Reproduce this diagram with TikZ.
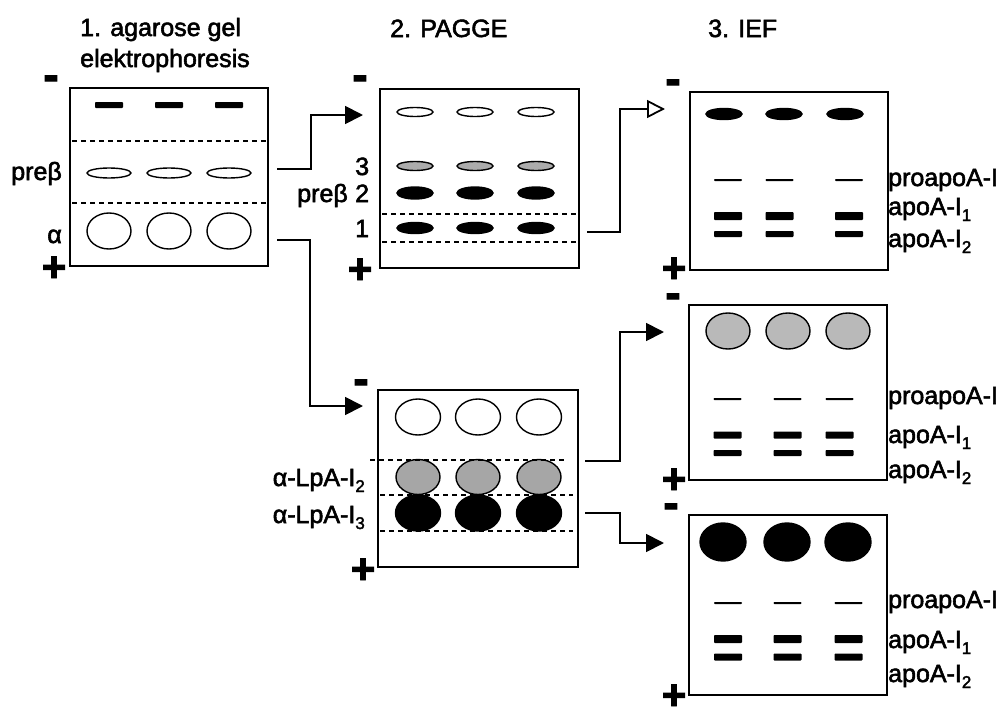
\documentclass[tikz,border=0pt]{standalone}
\usepackage{fontspec}
\setmainfont{Liberation Sans}[FakeBold=2.2]
\usetikzlibrary{shapes.geometric,arrows.meta}
\newcommand\fsa{\fontsize{25}{30}\selectfont}
\newcommand\fsminus{\fontsize{46}{46}\selectfont\bfseries}
\newcommand\fsplus{\fontsize{42}{42}\selectfont\bfseries}
\newcommand\lsub[1]{\raisebox{-6pt}{\fontsize{17}{17}\selectfont #1}}
\begin{document}
\begin{tikzpicture}[x=1pt,y=-1pt,
  gel/.style={draw, line width=1.8pt, inner sep=0pt, rectangle},
  band/.style={fill=black, inner sep=0pt, rectangle, rounded corners=0.8pt, minimum width=28pt},
  spot/.style={ellipse, draw, line width=1.4pt, inner sep=0pt},
  lbl/.style={font=\fsa, inner sep=0pt},
  minus/.style={font=\fsminus, inner sep=0pt},
  plus/.style={font=\fsplus, inner sep=0pt},
  dashln/.style={line width=1.5pt, dash pattern=on 5pt off 4pt},
  conn/.style={line width=1.8pt},
  tipfill/.style={-{Triangle[length=18pt,width=18pt]}},
  tipopen/.style={-{Triangle[open,length=18pt,width=18pt,fill=white]}}
]
\useasboundingbox (0,0) rectangle (1002,712);
\fill[white] (0,0) rectangle (1002,712);

% titles
\node[lbl, anchor=base west] (t1a) at (80,36) {1. agarose gel};
\node[lbl, anchor=base west] (t1b) at (80,67) {elektrophoresis};
\node[lbl, anchor=base west] (t2) at (390,37) {2. PAGGE};
\node[lbl, anchor=base west] (t3) at (708,37) {3. IEF};

% gels
\node[gel, minimum width=198pt, minimum height=178pt] (g1) at (169,177) {};
\node[gel, minimum width=199pt, minimum height=179pt] (g2) at (479.5,178.5) {};
\node[gel, minimum width=200pt, minimum height=177pt] (g3) at (478,478.5) {};
\node[gel, minimum width=198pt, minimum height=178pt] (i1) at (789,181) {};
\node[gel, minimum width=198pt, minimum height=175pt] (i2) at (788,392.5) {};
\node[gel, minimum width=198pt, minimum height=180pt] (i3) at (788,605) {};

% gel 1 content
\foreach \x [count=\i] in {109,169,229} {
  \node[band, minimum height=6pt] (g1b\i) at (\x,105) {};
  \node[spot, fill=white, minimum width=44pt, minimum height=10pt] (g1p\i) at (\x,173) {};
  \node[spot, fill=white, minimum width=44pt, minimum height=36pt] (g1a\i) at (\x,231) {};
}
\draw[dashln] (72,141) -- (266,141);
\draw[dashln] (72,203) -- (266,203);
\node[lbl, anchor=base east] (l1p) at (62,180) {preβ};
\node[lbl, anchor=base east] (l1a) at (62,243) {α};

% gel 2 content
\foreach \x [count=\i] in {415,475,536} {
  \node[spot, fill=white, minimum width=36pt, minimum height=9pt] (g2w\i) at (\x,112) {};
  \node[spot, fill=gray!65, minimum width=36pt, minimum height=9pt] (g2g\i) at (\x,166) {};
  \node[spot, fill=black, minimum width=36pt, minimum height=12pt] (g2k\i) at (\x,193) {};
  \node[spot, fill=black, minimum width=36pt, minimum height=11pt] (g2o\i) at (\x,228) {};
}
\draw[dashln] (382,214) -- (576,214);
\draw[dashln] (382,242) -- (576,242);
\node[lbl, anchor=base west] (l2c) at (355,175) {3};
\node[lbl, anchor=base west] (l2b) at (355,202) {2};
\node[lbl, anchor=base west] (l2a) at (355,237) {1};
\node[lbl, anchor=base east] (l2p) at (348,202) {preβ};

% gel 3 content
\foreach \x [count=\i] in {418,478,539} {
  \node[spot, fill=white, minimum width=45pt, minimum height=36pt] (g3w\i) at (\x,417) {};
  \node[spot, fill=gray!70, minimum width=44pt, minimum height=35pt] (g3g\i) at (\x,477) {};
  \node[spot, fill=black, minimum width=45pt, minimum height=36pt] (g3k\i) at (\x,513) {};
}
\draw[dashln] (370,460) -- (565,460);
\draw[dashln] (380,495) -- (573,495);
\draw[dashln] (380,531) -- (573,531);
\node[lbl, anchor=base east] (l3a) at (365,486) {α-LpA-I\lsub{2}};
\node[lbl, anchor=base east] (l3b) at (365,523) {α-LpA-I\lsub{3}};

% IEF 1
\foreach \x [count=\i] in {724,784,845} {
  \node[spot, fill=black, minimum width=36pt, minimum height=11pt] (i1s\i) at (\x,114) {};
}
\foreach \x [count=\i] in {728,779.5,849} {
  \node[band, minimum height=2pt] (i1p\i) at (\x,180) {};
  \node[band, minimum height=8pt] (i1m\i) at (\x,216) {};
  \node[band, minimum height=6pt] (i1n\i) at (\x,234) {};
}
\node[lbl, anchor=base west] (r1a) at (888,186) {proapoA-I};
\node[lbl, anchor=base west] (r1b) at (888,215) {apoA-I\lsub{1}};
\node[lbl, anchor=base west] (r1c) at (888,247) {apoA-I\lsub{2}};

% IEF 2
\foreach \x [count=\i] in {728,788,848} {
  \node[spot, fill=gray!55, minimum width=44pt, minimum height=36pt] (i2s\i) at (\x,331) {};
}
\foreach \x [count=\i] in {727.5,787.5,839.5} {
  \node[band, minimum height=2pt] (i2p\i) at (\x,399) {};
  \node[band, minimum height=7pt] (i2m\i) at (\x,435) {};
  \node[band, minimum height=6pt] (i2n\i) at (\x,453) {};
}
\node[lbl, anchor=base west] (r2a) at (888,404) {proapoA-I};
\node[lbl, anchor=base west] (r2b) at (888,443) {apoA-I\lsub{1}};
\node[lbl, anchor=base west] (r2c) at (888,478) {apoA-I\lsub{2}};

% IEF 3
\foreach \x [count=\i] in {723,787,848} {
  \node[spot, fill=black, minimum width=46pt, minimum height=38pt] (i3s\i) at (\x,542) {};
}
\foreach \x [count=\i] in {728,787.5,848.5} {
  \node[band, minimum height=2pt] (i3p\i) at (\x,603) {};
  \node[band, minimum height=8pt] (i3m\i) at (\x,639) {};
  \node[band, minimum height=7pt] (i3n\i) at (\x,657) {};
}
\node[lbl, anchor=base west] (r3a) at (888,608) {proapoA-I};
\node[lbl, anchor=base west] (r3b) at (888,648) {apoA-I\lsub{1}};
\node[lbl, anchor=base west] (r3c) at (888,682) {apoA-I\lsub{2}};

% polarity signs
\node[minus] (m1) at (51,83) {-};
\node[minus] (m2) at (360,83) {-};
\node[minus] (m3) at (673,87) {-};
\node[minus] (m4) at (361,387) {-};
\node[minus] (m5) at (673,301) {-};
\node[minus] (m6) at (671,511) {-};
\node[plus] (p1) at (54,269) {+};
\node[plus] (p2) at (360,271) {+};
\node[plus] (p3) at (674,270) {+};
\node[plus] (p4) at (363,571) {+};
\node[plus] (p5) at (674,481) {+};
\node[plus] (p6) at (674,697) {+};

% connectors
\coordinate (a1s) at (277,169); \coordinate (a1k) at (311,115); \coordinate (a1e) at (363,115);
\coordinate (a2s) at (277,240); \coordinate (a2k) at (310,406); \coordinate (a2e) at (363,406);
\coordinate (a3s) at (587,232); \coordinate (a3k) at (620,109); \coordinate (a3e) at (665,109);
\coordinate (a4s) at (585,461); \coordinate (a4k) at (620,332); \coordinate (a4e) at (664,332);
\coordinate (a5s) at (585,513); \coordinate (a5k) at (620,543); \coordinate (a5e) at (664,543);
\draw[conn, tipfill] (a1s) -| (a1k) -- (a1e);
\draw[conn, tipfill] (a2s) -| (a2k) -- (a2e);
\draw[conn, tipopen] (a3s) -| (a3k) -- (a3e);
\draw[conn, tipfill] (a4s) -| (a4k) -- (a4e);
\draw[conn, tipfill] (a5s) -| (a5k) -- (a5e);
\end{tikzpicture}
\end{document}
